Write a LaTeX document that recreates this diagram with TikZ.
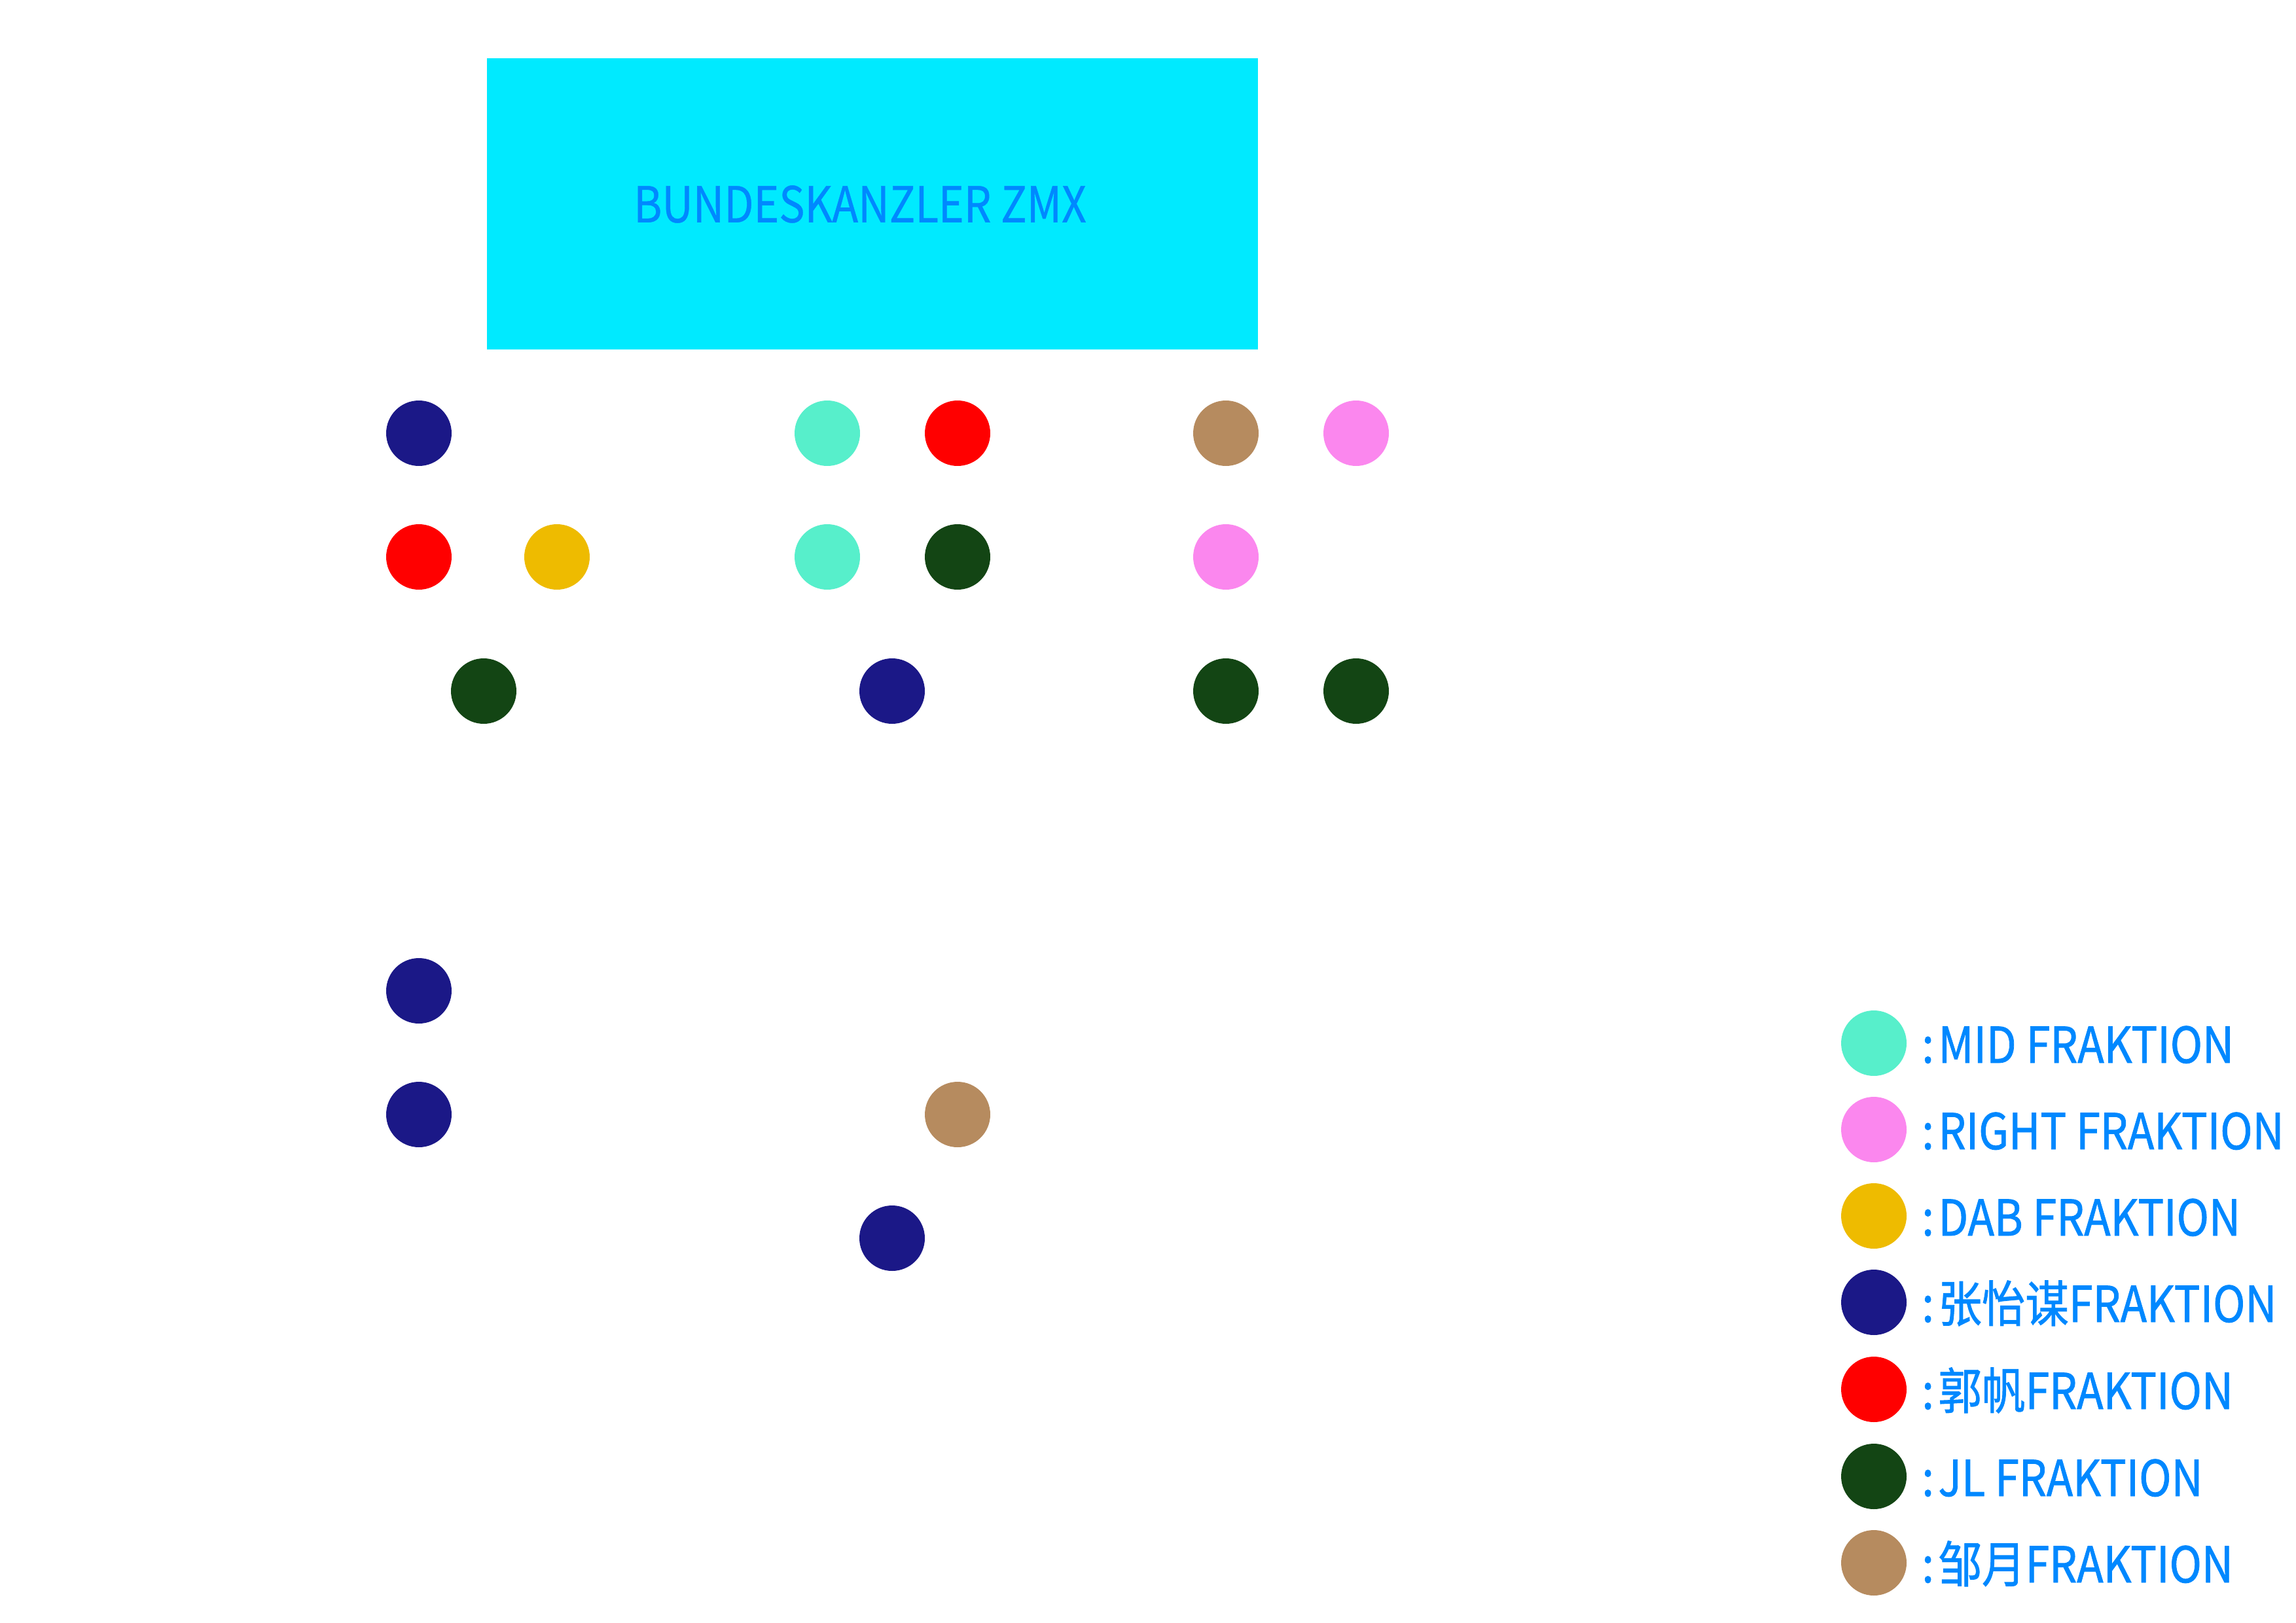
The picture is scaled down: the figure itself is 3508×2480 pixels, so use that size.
\documentclass[tikz,border=0pt]{standalone}
\usepackage{fontspec}
\setmainfont{Noto Sans CJK SC}
\newfontfamily\legfont[FakeBold=1.2]{Noto Sans CJK SC}
\newfontfamily\titlefont[FakeBold=0.6]{Noto Sans CJK SC}
\definecolor{boxcyan}{HTML}{00EAFF}
\definecolor{txtblue}{HTML}{0088FF}
\definecolor{cmid}{HTML}{57EFCB}
\definecolor{cright}{HTML}{FB87EE}
\definecolor{cdab}{HTML}{EEBB00}
\definecolor{czhang}{HTML}{1B1887}
\definecolor{cguo}{HTML}{FF0000}
\definecolor{cjl}{HTML}{134514}
\definecolor{czou}{HTML}{B68B5F}
\newcommand{\legline}[1]{\scalebox{0.88}[1]{:\hspace{0.1em}#1}}
\begin{document}
\begin{tikzpicture}[x=0.02cm,y=-0.02cm,
  seat/.style={circle,minimum size=2cm,inner sep=0pt,draw=none},
  legtxt/.style={anchor=base west,inner sep=0pt,text=txtblue,font=\legfont\fontsize{43}{50}\selectfont}]
\useasboundingbox (0,0) rectangle (3508,2480);
\fill[white] (0,0) rectangle (3508,2480);
% chancellor box
\fill[boxcyan] (744,89) rectangle (1922,534);
\node[inner sep=0pt,text=txtblue,font=\titlefont\fontsize{43}{50}\selectfont] (title) at (1314,312) {\scalebox{0.87}[1]{BUNDESKANZLER ZMX}};
% seats
\node[seat,fill=czhang] (s1) at (640,662) {};
\node[seat,fill=cmid]   (s2) at (1264,662) {};
\node[seat,fill=cguo]   (s3) at (1463,662) {};
\node[seat,fill=czou]   (s4) at (1873,662) {};
\node[seat,fill=cright] (s5) at (2072,662) {};
\node[seat,fill=cguo]   (s6) at (640,851) {};
\node[seat,fill=cdab]   (s7) at (851,851) {};
\node[seat,fill=cmid]   (s8) at (1264,851) {};
\node[seat,fill=cjl]    (s9) at (1463,851) {};
\node[seat,fill=cright] (s10) at (1873,851) {};
\node[seat,fill=cjl]    (s11) at (739,1056) {};
\node[seat,fill=czhang] (s12) at (1363,1056) {};
\node[seat,fill=cjl]    (s13) at (1873,1056) {};
\node[seat,fill=cjl]    (s14) at (2072,1056) {};
\node[seat,fill=czhang] (s15) at (640,1514) {};
\node[seat,fill=czhang] (s16) at (640,1703) {};
\node[seat,fill=czou]   (s17) at (1463,1703) {};
\node[seat,fill=czhang] (s18) at (1363,1892) {};
% legend
\node[seat,fill=cmid]   (l1) at (2863,1594) {};
\node[seat,fill=cright] (l2) at (2863,1726) {};
\node[seat,fill=cdab]   (l3) at (2863,1858) {};
\node[seat,fill=czhang] (l4) at (2863,1990) {};
\node[seat,fill=cguo]   (l5) at (2863,2123) {};
\node[seat,fill=cjl]    (l6) at (2863,2256) {};
\node[seat,fill=czou]   (l7) at (2863,2388) {};
\node[legtxt] (t1) at (2936,1624) {\legline{MID FRAKTION}};
\node[legtxt] (t2) at (2936,1756) {\legline{RIGHT FRAKTION}};
\node[legtxt] (t3) at (2936,1888) {\legline{DAB FRAKTION}};
\node[legtxt] (t4) at (2936,2020) {\legline{张怡谋FRAKTION}};
\node[legtxt] (t5) at (2936,2153) {\legline{郭帆FRAKTION}};
\node[legtxt] (t6) at (2936,2286) {\legline{JL FRAKTION}};
\node[legtxt] (t7) at (2936,2418) {\legline{邹月FRAKTION}};
\end{tikzpicture}
\end{document}
